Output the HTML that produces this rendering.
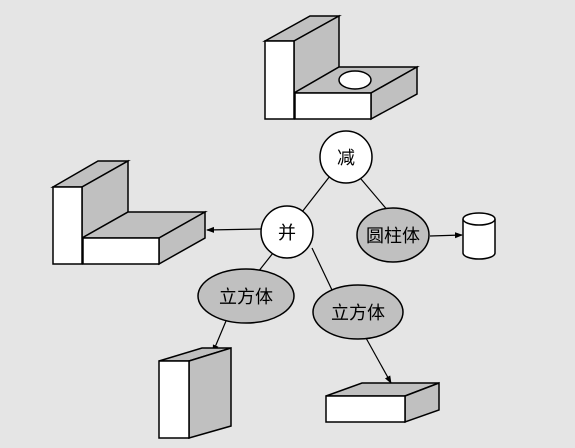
<!DOCTYPE html>
<html><head><meta charset="utf-8"><style>
html,body{margin:0;padding:0;background:#e5e5e5;}
svg{display:block}
text{font-family:"Liberation Sans","Noto Sans CJK SC",sans-serif;font-size:18px;text-anchor:middle;dominant-baseline:central;fill:#000}
</style></head><body>
<svg width="575" height="448" viewBox="0 0 575 448" stroke="#000" stroke-width="1.5">
<defs><marker id="ar" markerWidth="8" markerHeight="8" refX="7" refY="3" orient="auto" markerUnits="userSpaceOnUse"><path d="M0,0 L8,3 L0,6 Z" fill="#000" stroke="none"/></marker></defs>
<!-- lines -->
<g fill="none" stroke-width="1.2">
<line x1="330" y1="176" x2="302" y2="212"/>
<line x1="361" y1="179" x2="389" y2="212"/>
<line x1="273" y1="253" x2="258" y2="272"/>
<line x1="312" y1="248" x2="332" y2="290"/>
<line x1="261" y1="229" x2="207" y2="230" marker-end="url(#ar)"/>
<line x1="430" y1="236" x2="462" y2="235" marker-end="url(#ar)"/>
<line x1="226" y1="321" x2="213" y2="352" marker-end="url(#ar)"/>
<line x1="366" y1="338" x2="391" y2="383" marker-end="url(#ar)"/>
</g>
<!-- top L shape with hole -->
<g>
<polygon points="265,41 310,16 339,16 294,41" fill="#c0c0c0"/>
<polygon points="294,41 339,16 339,67 294,93" fill="#c0c0c0"/>
<polygon points="294,93 339,67 417,67 371,93" fill="#c0c0c0"/>
<polygon points="371,93 417,67 417,94 371,119" fill="#c0c0c0"/>
<rect x="265" y="41" width="29" height="78" fill="#fff"/>
<rect x="295" y="93" width="76" height="26" fill="#fff"/>
<ellipse cx="355" cy="80" rx="16" ry="9" fill="#fff"/>
</g>
<!-- left L shape -->
<g>
<polygon points="53,187 98,161 128,161 82,187" fill="#c0c0c0"/>
<polygon points="82,187 128,161 128,212 82,238" fill="#c0c0c0"/>
<polygon points="82,238 128,212 205,212 159,238" fill="#c0c0c0"/>
<polygon points="159,238 205,212 205,238 159,264" fill="#c0c0c0"/>
<rect x="53" y="187" width="29" height="77" fill="#fff"/>
<rect x="83" y="238" width="76" height="26" fill="#fff"/>
</g>
<!-- tall box -->
<g>
<polygon points="159,361 202,348 231,348 189,361" fill="#c0c0c0"/>
<polygon points="189,361 231,348 231,426 189,438" fill="#c0c0c0"/>
<rect x="159" y="361" width="30" height="77" fill="#fff"/>
</g>
<!-- flat box -->
<g>
<polygon points="326,396 362,383 439,383 405,396" fill="#c0c0c0"/>
<polygon points="405,396 439,383 439,410 405,422" fill="#c0c0c0"/>
<rect x="326" y="396" width="79" height="26" fill="#fff"/>
</g>
<!-- cylinder -->
<g>
<path d="M463,219 L463,253 A16,6 0 0 0 495,253 L495,219" fill="#fff"/>
<ellipse cx="479" cy="219" rx="16" ry="6" fill="#fff"/>
</g>
<!-- nodes -->
<g><circle cx="346" cy="157" r="26" fill="#fff"/><text x="346" y="158" stroke="none">减</text></g>
<g><circle cx="287" cy="232" r="26" fill="#fff"/><text x="287" y="233" stroke="none">并</text></g>
<g><ellipse cx="393" cy="235" rx="36" ry="27" fill="#c0c0c0"/><text x="393" y="236" stroke="none">圆柱体</text></g>
<g><ellipse cx="246" cy="296" rx="48" ry="27" fill="#c0c0c0"/><text x="246" y="297" stroke="none">立方体</text></g>
<g><ellipse cx="358" cy="312" rx="45" ry="27" fill="#c0c0c0"/><text x="358" y="313" stroke="none">立方体</text></g>
</svg>
</body></html>
